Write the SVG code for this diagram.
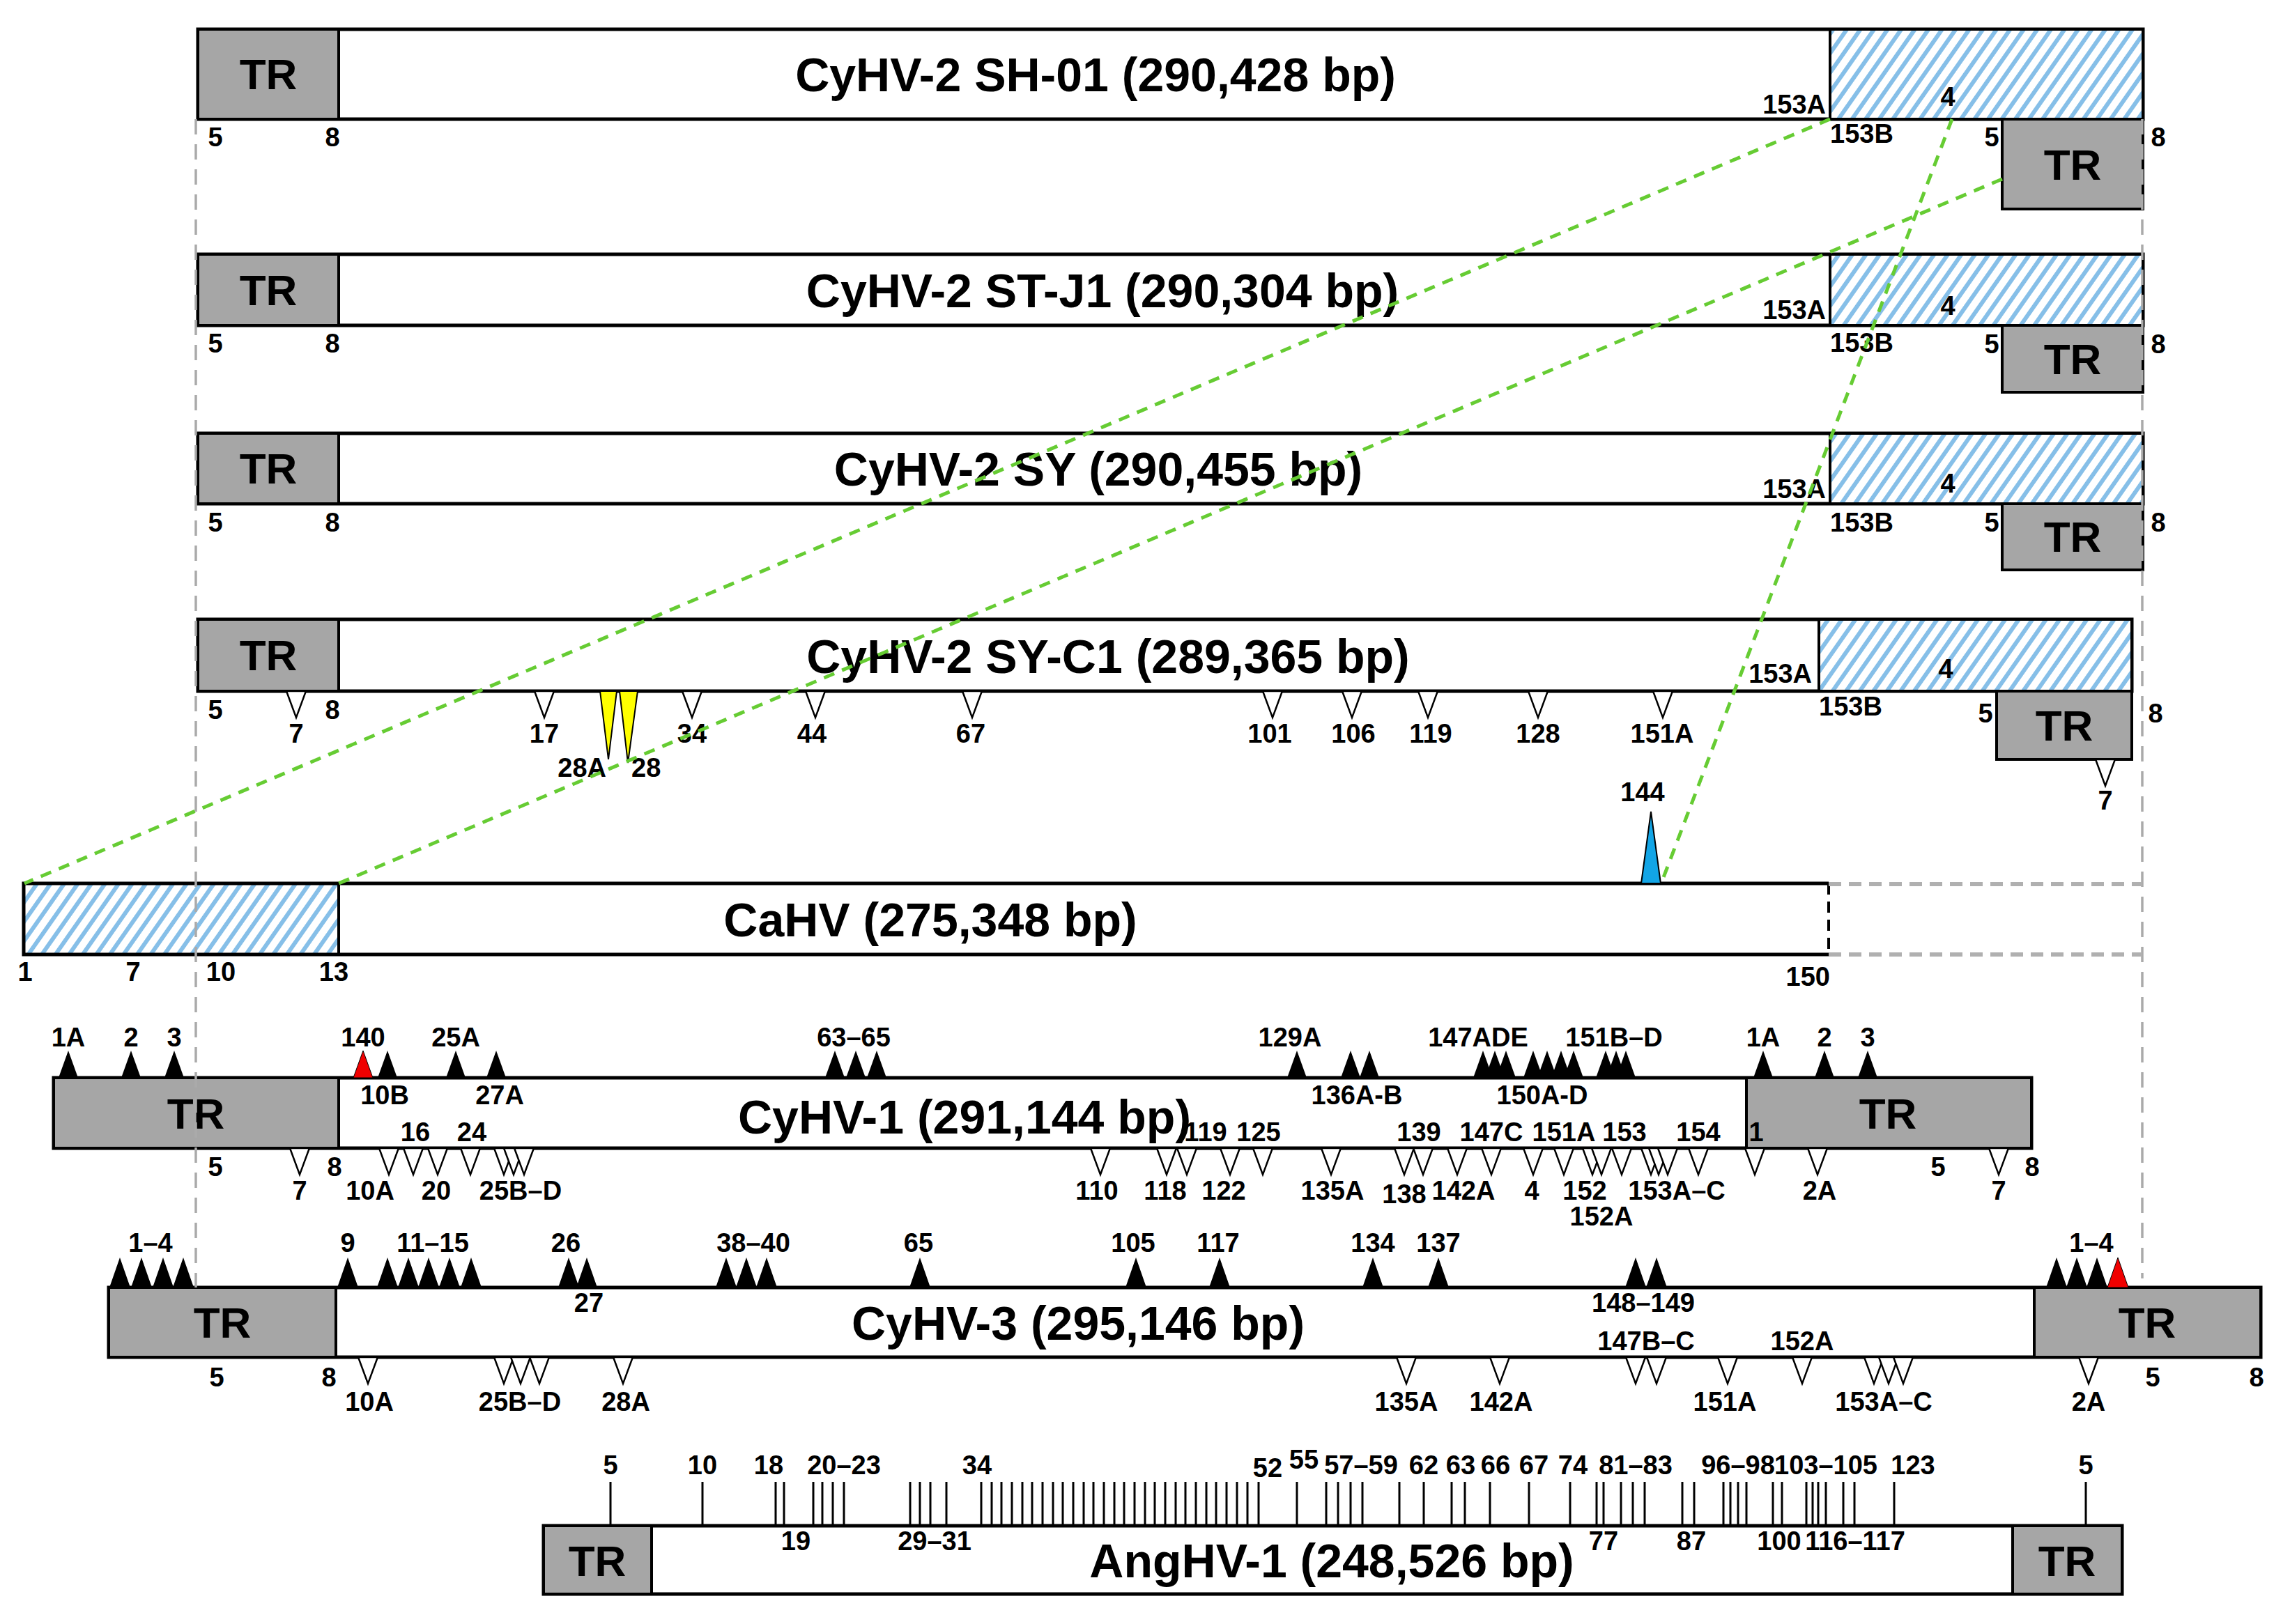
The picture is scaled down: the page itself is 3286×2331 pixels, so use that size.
<svg xmlns="http://www.w3.org/2000/svg" width="3286" height="2331" viewBox="0 0 3286 2331">
<defs>
<pattern id="hatch" patternUnits="userSpaceOnUse" width="16" height="16" patternTransform="rotate(35)">
<rect width="16" height="16" fill="#fff"/>
<rect x="0" y="0" width="6" height="16" fill="#86bfe8"/>
</pattern>
<path id="up" d="M-14,0 L0,-39 L14,0 Z"/>
<path id="up3" d="M-15,0 L0,-43 L15,0 Z"/>
<path id="dn" d="M-14,0 L0,38 L14,0 Z"/>
</defs>
<style>
.bar{fill:#fff;stroke:#000;stroke-width:5}
.tr{fill:#a6a6a6;stroke:#000;stroke-width:4}
.hat{fill:url(#hatch);stroke:#000;stroke-width:4}
text{font-family:"Liberation Sans",Arial,sans-serif;font-weight:bold;fill:#000}
.l{font-size:38px;text-anchor:middle}
.s{font-size:38px;text-anchor:start}
.e{font-size:38px;text-anchor:end}
.t{font-size:68px;text-anchor:middle}
.r{font-size:62px;text-anchor:middle}
.u{fill:#000}
.red{fill:#f00000;stroke:#000;stroke-width:1}
.d{fill:#fff;stroke:#000;stroke-width:2.5}
.g{stroke:#66cc33;stroke-width:5;stroke-dasharray:16 12;fill:none}
.gv{stroke:#aaaaaa;stroke-width:3.5;stroke-dasharray:22 14;fill:none}
.gh{stroke:#b0b0b0;stroke-width:6;stroke-dasharray:18 11;fill:none}
.tick{stroke:#000;stroke-width:3;fill:none}
</style>

<g id="sh01">
<rect class="bar" x="284" y="42" width="2791" height="129"/>
<rect class="tr" x="284" y="42" width="202" height="129"/>
<rect class="hat" x="2626" y="42" width="449" height="129"/>
<rect class="tr" x="2873" y="171" width="202" height="129"/>
<text class="r" x="385" y="128">TR</text>
<text class="t" x="1572" y="131">CyHV-2 SH-01 (290,428 bp)</text>
<text class="l" x="309" y="210">5</text><text class="l" x="477" y="210">8</text>
<text class="e" x="2620" y="163">153A</text>
<text class="l" x="2795" y="152">4</text>
<text class="s" x="2626" y="205">153B</text>
<text class="l" x="2858" y="210">5</text><text class="l" x="3097" y="210">8</text>
<text class="r" x="2974" y="258">TR</text>
</g>

<g id="stj1">
<rect class="bar" x="284" y="365" width="2791" height="102"/>
<rect class="tr" x="284" y="365" width="202" height="102"/>
<rect class="hat" x="2626" y="365" width="449" height="102"/>
<rect class="tr" x="2873" y="467" width="202" height="96"/>
<text class="r" x="385" y="438">TR</text>
<text class="t" x="1582" y="441">CyHV-2 ST-J1 (290,304 bp)</text>
<text class="l" x="309" y="506">5</text><text class="l" x="477" y="506">8</text>
<text class="e" x="2620" y="458">153A</text>
<text class="l" x="2795" y="452">4</text>
<text class="s" x="2626" y="505">153B</text>
<text class="l" x="2858" y="507">5</text><text class="l" x="3097" y="507">8</text>
<text class="r" x="2974" y="537">TR</text>
</g>

<g id="sy">
<rect class="bar" x="284" y="622" width="2791" height="101"/>
<rect class="tr" x="284" y="622" width="202" height="101"/>
<rect class="hat" x="2626" y="622" width="449" height="101"/>
<rect class="tr" x="2873" y="723" width="202" height="95"/>
<text class="r" x="385" y="694">TR</text>
<text class="t" x="1576" y="697">CyHV-2 SY (290,455 bp)</text>
<text class="l" x="309" y="763">5</text><text class="l" x="477" y="763">8</text>
<text class="e" x="2620" y="715">153A</text>
<text class="l" x="2795" y="707">4</text>
<text class="s" x="2626" y="763">153B</text>
<text class="l" x="2858" y="763">5</text><text class="l" x="3097" y="763">8</text>
<text class="r" x="2974" y="792">TR</text>
</g>

<g id="syc1">
<rect class="bar" x="284" y="889" width="2775" height="103"/>
<rect class="tr" x="284" y="889" width="202" height="103"/>
<rect class="hat" x="2610" y="889" width="449" height="103"/>
<rect class="tr" x="2865" y="992" width="194" height="98"/>
<text class="r" x="385" y="962">TR</text>
<text class="t" x="1590" y="966">CyHV-2 SY-C1 (289,365 bp)</text>
<text class="l" x="309" y="1032">5</text><text class="l" x="477" y="1032">8</text>
<text class="e" x="2600" y="980">153A</text>
<text class="l" x="2792" y="973">4</text>
<text class="s" x="2610" y="1027">153B</text>
<text class="l" x="2849" y="1037">5</text><text class="l" x="3093" y="1037">8</text>
<text class="r" x="2962" y="1063">TR</text>
<use href="#dn" class="d" x="425" y="992"/>
<use href="#dn" class="d" x="781" y="992"/>
<use href="#dn" class="d" x="993" y="992"/>
<use href="#dn" class="d" x="1170" y="992"/>
<use href="#dn" class="d" x="1395" y="992"/>
<use href="#dn" class="d" x="1826" y="992"/>
<use href="#dn" class="d" x="1940" y="992"/>
<use href="#dn" class="d" x="2049" y="992"/>
<use href="#dn" class="d" x="2207" y="992"/>
<use href="#dn" class="d" x="2386" y="992"/>
<use href="#dn" class="d" x="3021" y="1090"/>
<path d="M861,992 L873,1090 L885,992 Z" fill="#ffff00" stroke="#000" stroke-width="2"/>
<path d="M889,992 L901,1095 L915,992 Z" fill="#ffff00" stroke="#000" stroke-width="2"/>
<text class="l" x="425" y="1066">7</text>
<text class="l" x="781" y="1066">17</text>
<text class="l" x="993" y="1066">34</text>
<text class="l" x="1165" y="1066">44</text>
<text class="l" x="1393" y="1066">67</text>
<text class="l" x="1822" y="1066">101</text>
<text class="l" x="1942" y="1066">106</text>
<text class="l" x="2053" y="1066">119</text>
<text class="l" x="2207" y="1066">128</text>
<text class="l" x="2385" y="1066">151A</text>
<text class="l" x="3021" y="1162">7</text>
<text class="e" x="870" y="1115">28A</text>
<text class="s" x="906" y="1115">28</text>
</g>

<g id="cahv">
<rect x="34" y="1268" width="2590" height="102" fill="#fff"/>
<rect x="34" y="1268" width="452" height="102" fill="url(#hatch)"/>
<path d="M2624,1268 H34 V1370 H2624" fill="none" stroke="#000" stroke-width="5"/>
<line x1="486" y1="1268" x2="486" y2="1370" stroke="#000" stroke-width="4"/>
<line x1="2624" y1="1268" x2="2624" y2="1370" stroke="#000" stroke-width="4" stroke-dasharray="16 10"/>
<path d="M2355,1268 L2369,1165 L2383,1268 Z" fill="#12a5e6" stroke="#000" stroke-width="2"/>
<text class="l" x="2357" y="1150">144</text>
<text class="t" x="1335" y="1344">CaHV (275,348 bp)</text>
<text class="l" x="36" y="1408">1</text>
<text class="l" x="191" y="1408">7</text>
<text class="l" x="317" y="1408">10</text>
<text class="l" x="479" y="1408">13</text>
<text class="e" x="2626" y="1415">150</text>
</g>

<g id="cyhv1">
<rect class="bar" x="77" y="1547" width="2838" height="101"/>
<rect class="tr" x="77" y="1547" width="409" height="101"/>
<rect class="tr" x="2506" y="1547" width="409" height="101"/>
<text class="r" x="281" y="1620">TR</text>
<text class="r" x="2709" y="1620">TR</text>
<text class="t" x="1384" y="1627">CyHV-1 (291,144 bp)</text>
<use href="#up" class="u" x="98" y="1547"/>
<use href="#up" class="u" x="188" y="1547"/>
<use href="#up" class="u" x="250" y="1547"/>
<use href="#up" class="red" x="521" y="1547"/>
<use href="#up" class="u" x="556" y="1547"/>
<use href="#up" class="u" x="654" y="1547"/>
<use href="#up" class="u" x="712" y="1547"/>
<use href="#up" class="u" x="1198" y="1547"/>
<use href="#up" class="u" x="1228" y="1547"/>
<use href="#up" class="u" x="1258" y="1547"/>
<use href="#up" class="u" x="1861" y="1547"/>
<use href="#up" class="u" x="1938" y="1547"/>
<use href="#up" class="u" x="1965" y="1547"/>
<use href="#up" class="u" x="2128" y="1547"/>
<use href="#up" class="u" x="2145" y="1547"/>
<use href="#up" class="u" x="2161" y="1547"/>
<use href="#up" class="u" x="2200" y="1547"/>
<use href="#up" class="u" x="2220" y="1547"/>
<use href="#up" class="u" x="2240" y="1547"/>
<use href="#up" class="u" x="2258" y="1547"/>
<use href="#up" class="u" x="2304" y="1547"/>
<use href="#up" class="u" x="2319" y="1547"/>
<use href="#up" class="u" x="2333" y="1547"/>
<use href="#up" class="u" x="2530" y="1547"/>
<use href="#up" class="u" x="2618" y="1547"/>
<use href="#up" class="u" x="2680" y="1547"/>
<text class="l" x="98" y="1502">1A</text>
<text class="l" x="188" y="1502">2</text>
<text class="l" x="250" y="1502">3</text>
<text class="l" x="521" y="1502">140</text>
<text class="l" x="654" y="1502">25A</text>
<text class="l" x="1225" y="1502">63–65</text>
<text class="l" x="1851" y="1502">129A</text>
<text class="l" x="2121" y="1502">147ADE</text>
<text class="l" x="2316" y="1502">151B–D</text>
<text class="l" x="2530" y="1502">1A</text>
<text class="l" x="2618" y="1502">2</text>
<text class="l" x="2680" y="1502">3</text>
<text class="l" x="552" y="1585">10B</text>
<text class="l" x="717" y="1585">27A</text>
<text class="l" x="1947" y="1585">136A-B</text>
<text class="l" x="2213" y="1585">150A-D</text>
<text class="l" x="596" y="1638">16</text>
<text class="l" x="677" y="1638">24</text>
<text class="l" x="1730" y="1638">119</text>
<text class="l" x="1806" y="1638">125</text>
<text class="l" x="2036" y="1638">139</text>
<text class="l" x="2140" y="1638">147C</text>
<text class="l" x="2244" y="1638">151A</text>
<text class="l" x="2331" y="1638">153</text>
<text class="l" x="2437" y="1638">154</text>
<text class="l" x="2520" y="1638">1</text>
<use href="#dn" class="d" x="430" y="1648"/>
<use href="#dn" class="d" x="558" y="1648"/>
<use href="#dn" class="d" x="593" y="1648"/>
<use href="#dn" class="d" x="628" y="1648"/>
<use href="#dn" class="d" x="675" y="1648"/>
<use href="#dn" class="d" x="723" y="1648"/>
<use href="#dn" class="d" x="737" y="1648"/>
<use href="#dn" class="d" x="752" y="1648"/>
<use href="#dn" class="d" x="1579" y="1648"/>
<use href="#dn" class="d" x="1674" y="1648"/>
<use href="#dn" class="d" x="1703" y="1648"/>
<use href="#dn" class="d" x="1765" y="1648"/>
<use href="#dn" class="d" x="1812" y="1648"/>
<use href="#dn" class="d" x="1910" y="1648"/>
<use href="#dn" class="d" x="2015" y="1648"/>
<use href="#dn" class="d" x="2042" y="1648"/>
<use href="#dn" class="d" x="2091" y="1648"/>
<use href="#dn" class="d" x="2140" y="1648"/>
<use href="#dn" class="d" x="2200" y="1648"/>
<use href="#dn" class="d" x="2244" y="1648"/>
<use href="#dn" class="d" x="2285" y="1648"/>
<use href="#dn" class="d" x="2298" y="1648"/>
<use href="#dn" class="d" x="2327" y="1648"/>
<use href="#dn" class="d" x="2369" y="1648"/>
<use href="#dn" class="d" x="2380" y="1648"/>
<use href="#dn" class="d" x="2393" y="1648"/>
<use href="#dn" class="d" x="2437" y="1648"/>
<use href="#dn" class="d" x="2518" y="1648"/>
<use href="#dn" class="d" x="2608" y="1648"/>
<use href="#dn" class="d" x="2868" y="1648"/>
<text class="l" x="309" y="1688">5</text>
<text class="l" x="480" y="1688">8</text>
<text class="l" x="2781" y="1688">5</text>
<text class="l" x="2916" y="1688">8</text>
<text class="l" x="430" y="1722">7</text>
<text class="l" x="531" y="1722">10A</text>
<text class="l" x="626" y="1722">20</text>
<text class="l" x="747" y="1722">25B–D</text>
<text class="l" x="1574" y="1722">110</text>
<text class="l" x="1672" y="1722">118</text>
<text class="l" x="1756" y="1722">122</text>
<text class="l" x="1912" y="1722">135A</text>
<text class="l" x="2015" y="1727">138</text>
<text class="l" x="2100" y="1722">142A</text>
<text class="l" x="2198" y="1722">4</text>
<text class="l" x="2274" y="1722">152</text>
<text class="l" x="2298" y="1759">152A</text>
<text class="l" x="2406" y="1722">153A–C</text>
<text class="l" x="2611" y="1722">2A</text>
<text class="l" x="2868" y="1722">7</text>
</g>

<g id="cyhv3">
<rect class="bar" x="156" y="1848" width="3088" height="100"/>
<rect class="tr" x="156" y="1848" width="326" height="100"/>
<rect class="tr" x="2919" y="1848" width="325" height="100"/>
<text class="r" x="319" y="1920">TR</text>
<text class="r" x="3081" y="1920">TR</text>
<text class="t" x="1547" y="1923">CyHV-3 (295,146 bp)</text>
<use href="#up3" class="u" x="172" y="1848"/>
<use href="#up3" class="u" x="203" y="1848"/>
<use href="#up3" class="u" x="234" y="1848"/>
<use href="#up3" class="u" x="263" y="1848"/>
<use href="#up3" class="u" x="499" y="1848"/>
<use href="#up3" class="u" x="556" y="1848"/>
<use href="#up3" class="u" x="586" y="1848"/>
<use href="#up3" class="u" x="615" y="1848"/>
<use href="#up3" class="u" x="645" y="1848"/>
<use href="#up3" class="u" x="676" y="1848"/>
<use href="#up3" class="u" x="816" y="1848"/>
<use href="#up3" class="u" x="842" y="1848"/>
<use href="#up3" class="u" x="1042" y="1848"/>
<use href="#up3" class="u" x="1071" y="1848"/>
<use href="#up3" class="u" x="1100" y="1848"/>
<use href="#up3" class="u" x="1320" y="1848"/>
<use href="#up3" class="u" x="1630" y="1848"/>
<use href="#up3" class="u" x="1750" y="1848"/>
<use href="#up3" class="u" x="1970" y="1848"/>
<use href="#up3" class="u" x="2064" y="1848"/>
<use href="#up3" class="u" x="2347" y="1848"/>
<use href="#up3" class="u" x="2377" y="1848"/>
<use href="#up3" class="u" x="2951" y="1848"/>
<use href="#up3" class="u" x="2980" y="1848"/>
<use href="#up3" class="u" x="3009" y="1848"/>
<use href="#up3" class="red" x="3039" y="1848"/>
<text class="l" x="216" y="1797">1–4</text>
<text class="l" x="499" y="1797">9</text>
<text class="l" x="621" y="1797">11–15</text>
<text class="l" x="812" y="1797">26</text>
<text class="l" x="1081" y="1797">38–40</text>
<text class="l" x="1318" y="1797">65</text>
<text class="l" x="1626" y="1797">105</text>
<text class="l" x="1748" y="1797">117</text>
<text class="l" x="1970" y="1797">134</text>
<text class="l" x="2064" y="1797">137</text>
<text class="l" x="3001" y="1797">1–4</text>
<text class="l" x="845" y="1883">27</text>
<text class="l" x="2358" y="1883">148–149</text>
<text class="l" x="2362" y="1938">147B–C</text>
<text class="l" x="2586" y="1938">152A</text>
<use href="#dn" class="d" x="528" y="1948"/>
<use href="#dn" class="d" x="723" y="1948"/>
<use href="#dn" class="d" x="747" y="1948"/>
<use href="#dn" class="d" x="774" y="1948"/>
<use href="#dn" class="d" x="894" y="1948"/>
<use href="#dn" class="d" x="2018" y="1948"/>
<use href="#dn" class="d" x="2152" y="1948"/>
<use href="#dn" class="d" x="2347" y="1948"/>
<use href="#dn" class="d" x="2377" y="1948"/>
<use href="#dn" class="d" x="2479" y="1948"/>
<use href="#dn" class="d" x="2586" y="1948"/>
<use href="#dn" class="d" x="2689" y="1948"/>
<use href="#dn" class="d" x="2710" y="1948"/>
<use href="#dn" class="d" x="2731" y="1948"/>
<use href="#dn" class="d" x="2997" y="1948"/>
<text class="l" x="311" y="1990">5</text>
<text class="l" x="472" y="1990">8</text>
<text class="l" x="3089" y="1990">5</text>
<text class="l" x="3238" y="1990">8</text>
<text class="l" x="530" y="2025">10A</text>
<text class="l" x="746" y="2025">25B–D</text>
<text class="l" x="898" y="2025">28A</text>
<text class="l" x="2018" y="2025">135A</text>
<text class="l" x="2154" y="2025">142A</text>
<text class="l" x="2475" y="2025">151A</text>
<text class="l" x="2703" y="2025">153A–C</text>
<text class="l" x="2997" y="2025">2A</text>
</g>

<g id="anghv1">
<rect class="bar" x="780" y="2190" width="2265" height="98"/>
<rect class="tr" x="780" y="2190" width="155" height="98"/>
<rect class="tr" x="2888" y="2190" width="157" height="98"/>
<text class="r" x="857" y="2262">TR</text>
<text class="r" x="2966" y="2262">TR</text>
<text class="t" x="1911" y="2264">AngHV-1 (248,526 bp)</text>
<path class="tick" d="M876,2127V2190 M1008,2127V2190 M1113,2127V2190 M1125,2127V2190 M1167,2127V2190 M1180,2127V2190 M1195,2127V2190 M1211,2127V2190 M1306,2127V2190 M1320,2127V2190 M1335,2127V2190 M1358,2127V2190 M1408,2127V2190 M1423,2127V2190 M1437,2127V2190 M1452,2127V2190 M1467,2127V2190 M1481,2127V2190 M1496,2127V2190 M1511,2127V2190 M1525,2127V2190 M1540,2127V2190 M1555,2127V2190 M1569,2127V2190 M1584,2127V2190 M1599,2127V2190 M1613,2127V2190 M1628,2127V2190 M1643,2127V2190 M1657,2127V2190 M1672,2127V2190 M1687,2127V2190 M1701,2127V2190 M1716,2127V2190 M1731,2127V2190 M1745,2127V2190 M1760,2127V2190 M1775,2127V2190 M1790,2127V2190 M1806,2127V2190 M1861,2127V2190 M1903,2127V2190 M1920,2127V2190 M1938,2127V2190 M1955,2127V2190 M2008,2127V2190 M2043,2127V2190 M2083,2127V2190 M2102,2127V2190 M2138,2127V2190 M2194,2127V2190 M2253,2127V2190 M2291,2127V2190 M2301,2127V2190 M2326,2127V2190 M2343,2127V2190 M2360,2127V2190 M2414,2127V2190 M2431,2127V2190 M2473,2127V2190 M2483,2127V2190 M2494,2127V2190 M2506,2127V2190 M2544,2127V2190 M2557,2127V2190 M2592,2127V2190 M2601,2127V2190 M2609,2127V2190 M2620,2127V2190 M2645,2127V2190 M2661,2127V2190 M2718,2127V2190 M2993,2127V2190"/>
<text class="l" x="876" y="2116">5</text>
<text class="l" x="1008" y="2116">10</text>
<text class="l" x="1103" y="2116">18</text>
<text class="l" x="1211" y="2116">20–23</text>
<text class="l" x="1402" y="2116">34</text>
<text class="l" x="1819" y="2120">52</text>
<text class="l" x="1871" y="2108">55</text>
<text class="l" x="1953" y="2116">57–59</text>
<text class="l" x="2043" y="2116">62</text>
<text class="l" x="2096" y="2116">63</text>
<text class="l" x="2146" y="2116">66</text>
<text class="l" x="2201" y="2116">67</text>
<text class="l" x="2257" y="2116">74</text>
<text class="l" x="2347" y="2116">81–83</text>
<text class="l" x="2494" y="2116">96–98</text>
<text class="l" x="2620" y="2116">103–105</text>
<text class="l" x="2745" y="2116">123</text>
<text class="l" x="2993" y="2116">5</text>
<text class="l" x="1142" y="2225">19</text>
<text class="l" x="1341" y="2225">29–31</text>
<text class="l" x="2301" y="2225">77</text>
<text class="l" x="2427" y="2225">87</text>
<text class="l" x="2553" y="2225">100</text>
<text class="l" x="2662" y="2225">116–117</text>
</g>

<g id="connectors">
<line class="gv" x1="281" y1="171" x2="281" y2="1848"/>
<line class="gv" x1="3074" y1="171" x2="3074" y2="1835"/>
<line class="gh" x1="2624" y1="1269" x2="3074" y2="1269"/>
<line class="gh" x1="2624" y1="1370" x2="3074" y2="1370"/>
<line class="g" x1="2626" y1="171" x2="35" y2="1268"/>
<line class="g" x1="2873" y1="257" x2="486" y2="1268"/>
<line class="g" x1="2801" y1="171" x2="2386" y2="1262"/>
</g>
</svg>
